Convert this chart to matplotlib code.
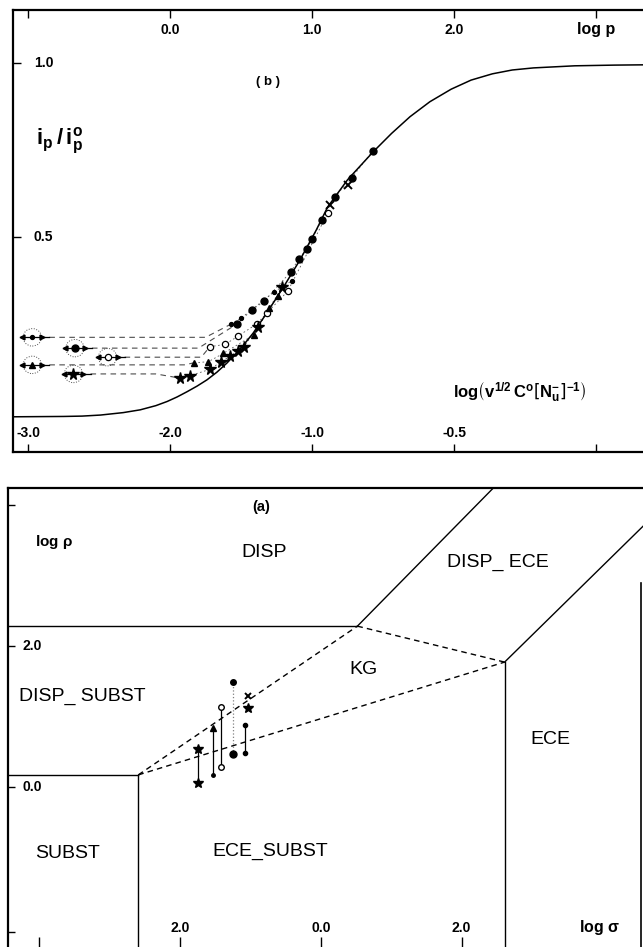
import numpy as np
import matplotlib.pyplot as plt
from matplotlib.patches import Ellipse

plt.rcParams['font.family'] = ['Liberation Sans', 'DejaVu Sans']
plt.rcParams['mathtext.default'] = 'regular'

# ---------------- panel (b): ip/ip0 vs log p ----------------
curve_x = [-1.11, -0.75, -0.62, -0.49, -0.33, -0.21, -0.1, -0.02, 0.05, 0.12, 0.19, 0.26,
           0.33, 0.40, 0.49, 0.585, 0.68, 0.80, 0.915, 1.03, 1.11, 1.25, 1.43, 1.56, 1.69,
           1.83, 1.98, 2.12, 2.27, 2.41, 2.56, 2.85, 3.13, 3.38]
curve_y = [-0.016, -0.015, -0.014, -0.011, -0.004, 0.004, 0.016, 0.028, 0.041, 0.056, 0.072,
           0.09, 0.112, 0.138, 0.176, 0.224, 0.281, 0.357, 0.434, 0.52, 0.586, 0.664, 0.744,
           0.797, 0.845, 0.888, 0.924, 0.950, 0.968, 0.979, 0.985, 0.991, 0.993, 0.994]

dot_x = [0.43, 0.50, 0.735, 0.857]
dot_y = [0.25, 0.267, 0.343, 0.374]
fill_x = [0.47, 0.575, 0.664, 0.85, 0.908, 0.963, 1.00, 1.07, 1.16, 1.28, 1.43]
fill_y = [0.25, 0.29, 0.316, 0.40, 0.437, 0.466, 0.494, 0.550, 0.615, 0.670, 0.748]
open_x = [0.28, 0.39, 0.48, 0.61, 0.68, 0.83, 1.11]
open_y = [0.185, 0.192, 0.216, 0.25, 0.281, 0.345, 0.568]
tri_x = [0.17, 0.27, 0.375, 0.59, 0.70, 0.76]
tri_y = [0.139, 0.142, 0.166, 0.219, 0.295, 0.33]
star_x = [0.07, 0.14, 0.28, 0.36, 0.42, 0.48, 0.52, 0.62, 0.79]
star_y = [0.095, 0.102, 0.12, 0.142, 0.157, 0.173, 0.185, 0.243, 0.357]
cross_x = [1.127, 1.25]
cross_y = [0.592, 0.649]

# low-p limits (same order: dot, filled, open, triangle, star)
plateau_x = [-0.97, -0.67, -0.44, -0.97, -0.68]
plateau_y = [0.212, 0.181, 0.155, 0.133, 0.107]
knee_x = [0.25, 0.2, 0.22, 0.1, -0.1]

top_ticks = [-1, 0, 1, 2, 3]
top_labels = ['', '0.0', '1.0', '2.0', 'log p']
bot_labels = ['-3.0', '-2.0', '-1.0', '-0.5', '']

# ---------------- panel (a): log rho vs log sigma ----------------
col_x = [-1.745, -1.53, -1.41, -1.24, -1.08]
col_lo = [0.052, 0.17, 0.28, 0.47, 0.48]
col_hi = [0.535, 0.83, 1.14, 1.49, 0.88]
extra_x = [-1.035, -1.035]
extra_y = [1.29, 1.12]

regions = ['DISP', 'DISP_ ECE', 'KG', 'DISP_ SUBST', 'ECE', 'SUBST', 'ECE_SUBST']
region_x = [-0.81, 2.51, 0.60, -3.39, 3.26, -3.59, -0.72]
region_y = [3.33, 3.19, 1.66, 1.28, 0.67, -0.94, -0.92]

fig = plt.figure(figsize=(6.43, 9.47), dpi=100)

# ---- top panel
ax = fig.add_axes([0.0202, 0.5227, 0.9907, 0.4667])
ax.set_xlim(-1.106, 3.38)
ax.set_ylim(-0.117, 1.151)
for s in ['left', 'top', 'bottom']:
    ax.spines[s].set_linewidth(1.6)
ax.spines['right'].set_visible(False)
ax.set_xticks(top_ticks)
ax.set_xticklabels([])
ax.set_yticks([0.5, 1.0])
ax.set_yticklabels([])
ax.tick_params(axis='x', direction='in', length=6, width=1.0, top=True, bottom=True)
ax.tick_params(axis='y', direction='in', length=6, width=1.0)

ax.plot(curve_x, curve_y, color='k', lw=1.1, zorder=2)

series = [(dot_x, dot_y, dict(marker='o', ms=2.8, mfc='k', mec='k')),
          (fill_x, fill_y, dict(marker='o', ms=5, mfc='k', mec='k')),
          (open_x, open_y, dict(marker='o', ms=4.5, mfc='white', mec='k', mew=0.9)),
          (tri_x, tri_y, dict(marker='^', ms=4.5, mfc='k', mec='k')),
          (star_x, star_y, dict(marker='*', ms=8.5, mfc='k', mec='k'))]

for i, (sx, sy, st) in enumerate(series):
    x0, y0 = plateau_x[i], plateau_y[i]
    # dashed continuation from the low limit towards the measured points
    ax.plot([x0 + 0.12, knee_x[i], sx[0]], [y0, y0, sy[0]], color='0.3', lw=0.8,
            dashes=(5, 4), zorder=1)
    ax.plot(sx, sy, color='0.35', lw=0.6, dashes=(2, 3), zorder=1)
    ax.plot(sx, sy, ls='none', zorder=3, **st)
    ax.plot([x0 - 0.06, x0 + 0.12], [y0, y0], color='k', lw=0.9, zorder=2)
    ax.plot([x0 - 0.07], [y0], marker='<', ms=3.5, color='k', ls='none', zorder=3)
    ax.plot([x0 + 0.07], [y0], marker='>', ms=3.5, color='k', ls='none', zorder=3)
    ax.plot([x0], [y0], ls='none', zorder=3, **st)
    ax.add_patch(Ellipse((x0, y0), 0.13, 0.05, fill=False, ls=':', lw=0.7,
                         ec='0.3', zorder=2))

ax.plot(cross_x, cross_y, ls='none', marker='x', ms=5.5, mew=1.4, color='k', zorder=3)

for t, lab in zip(top_ticks, top_labels):
    ax.text(t, 1.094, lab, ha='center', va='center', fontsize=10 if lab != 'log p' else 11.5,
            fontweight='bold')
for t, lab in zip(top_ticks, bot_labels):
    ax.text(t, -0.062, lab, ha='center', va='center', fontsize=10, fontweight='bold')
ax.text(-0.89, 1.0, '1.0', ha='center', va='center', fontsize=10, fontweight='bold')
ax.text(-0.89, 0.5, '0.5', ha='center', va='center', fontsize=10, fontweight='bold')
ax.text(0.69, 0.944, '( b )', ha='center', va='center', fontsize=9.5, fontweight='bold')
ax.text(-0.775, 0.775, r'$i_p\,/\,i_p^o$', ha='center', va='center', fontsize=16,
        fontweight='bold')
ax.text(2.46, 0.053, r'$log\left(v^{1/2}\,C^{o}\left[N_u^{-}\right]^{-1}\right)$',
        ha='center', va='center', fontsize=12, fontweight='bold')

# ---- bottom panel
bx = fig.add_axes([0.01244, -0.0021, 0.998, 0.4868])
bx.set_xlim(-4.44, 4.67)
bx.set_ylim(-2.30, 4.24)
for s in ['left', 'top', 'bottom']:
    bx.spines[s].set_linewidth(1.6)
bx.spines['right'].set_visible(False)
bx.set_xticks([-4, -2, 0, 2])
bx.set_xticklabels([])
bx.set_yticks([-2.06, 0, 2, 4])
bx.set_yticklabels([])
bx.tick_params(axis='x', direction='in', length=9, width=1.0)
bx.tick_params(axis='y', direction='in', length=5, width=1.0)

solid = dict(color='k', lw=1.0)
bx.plot([-4.44, -2.59], [0.17, 0.17], **solid)
bx.plot([-2.59, -2.59], [0.17, -2.30], **solid)
bx.plot([-4.44, 0.52], [2.28, 2.28], **solid)
bx.plot([0.52, 2.45], [2.28, 4.24], **solid)
bx.plot([2.61, 2.61], [1.77, -2.30], **solid)
bx.plot([2.61, 4.70], [1.77, 3.82], **solid)
bx.plot([4.54, 4.54], [2.89, -2.30], color='k', lw=1.2)

dash = dict(color='k', lw=1.0, dashes=(4, 3))
bx.plot([-2.59, 0.52], [0.17, 2.28], **dash)
bx.plot([-2.59, 2.61], [0.17, 1.77], **dash)
bx.plot([0.52, 2.61], [2.28, 1.77], **dash)

col_styles = [(dict(marker='*', ms=7, mfc='k', mec='k'), dict(marker='*', ms=7, mfc='k', mec='k'), '-'),
              (dict(marker='o', ms=2.5, mfc='k', mec='k'), dict(marker='^', ms=4, mfc='k', mec='k'), '-'),
              (dict(marker='o', ms=4, mfc='white', mec='k'), dict(marker='o', ms=4, mfc='white', mec='k'), '-'),
              (dict(marker='o', ms=5, mfc='k', mec='k'), dict(marker='o', ms=4, mfc='k', mec='k'), ':'),
              (dict(marker='o', ms=3, mfc='k', mec='k'), dict(marker='o', ms=3, mfc='k', mec='k'), '-')]
for i, (lo_st, hi_st, ls) in enumerate(col_styles):
    bx.plot([col_x[i], col_x[i]], [col_lo[i], col_hi[i]], color='k' if ls == '-' else '0.5',
            lw=0.9, ls=ls, zorder=2)
    bx.plot([col_x[i]], [col_lo[i]], ls='none', zorder=3, **lo_st)
    bx.plot([col_x[i]], [col_hi[i]], ls='none', zorder=3, **hi_st)
bx.plot([extra_x[0]], [extra_y[0]], marker='x', ms=5, mew=1.4, color='k', ls='none')
bx.plot([extra_x[1]], [extra_y[1]], marker='*', ms=7, color='k', ls='none')

for name, x, y in zip(regions, region_x, region_y):
    bx.text(x, y, name, ha='center', va='center', fontsize=14)

bx.text(-0.84, 3.97, '(a)', ha='center', va='center', fontsize=10.5, fontweight='bold')
bx.text(-3.79, 3.48, r'log $\rho$', ha='center', va='center', fontsize=11, fontweight='bold')
bx.text(3.96, -1.99, r'log $\sigma$', ha='center', va='center', fontsize=11.5, fontweight='bold')
for t, lab in zip([-2, 0, 2], ['2.0', '0.0', '2.0']):
    bx.text(t, -2.0, lab, ha='center', va='center', fontsize=10, fontweight='bold')
bx.text(-4.1, 2.0, '2.0', ha='center', va='center', fontsize=10, fontweight='bold')
bx.text(-4.1, 0.0, '0.0', ha='center', va='center', fontsize=10, fontweight='bold')

fig.savefig('out.png', dpi=100)
